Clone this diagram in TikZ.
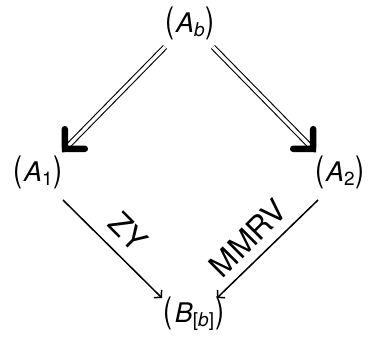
\documentclass[tikz,border=0pt]{standalone}
\usepackage{fontspec}
\setmainfont{TeX Gyre Heros}
\usetikzlibrary{arrows.meta,decorations.markings}
\newcommand\lp{\scalebox{1}[1.3]{(}}
\newcommand\rp{\scalebox{1}[1.3]{)}}
\newcommand\sbs[1]{\raisebox{-0.14em}{\fontsize{19}{19}\selectfont #1}}
\tikzset{
  obj/.style={inner sep=0pt, anchor=base, font=\fontsize{27}{30}\selectfont},
  lab/.style={inner sep=0pt, font=\fontsize{31}{34}\selectfont},
  dbl/.style={double, double distance=3.4pt, line width=1.1pt},
  chev/.style={decorate, decoration={markings, mark=at position 1 with {
     \draw[line width=6.5pt, line cap=round, line join=miter] (-14pt,14pt) -- (0,0) -- (-14pt,-14pt);}}},
  sar/.style={line width=1.5pt, -{Straight Barb[length=5pt,width=11pt,line width=1.5pt]}}
}
\begin{document}
\begin{tikzpicture}[x=1pt,y=-1pt]
\useasboundingbox (0,0) rectangle (370,342);
\node[obj] (Ab) at (190,33) {\lp\hspace{2pt}\textit{A}\sbs{\textit{b}}\hspace{1pt}\rp};
\node[obj] (A1) at (38,182) {\lp\hspace{2pt}\textit{A}\sbs{1}\hspace{1pt}\rp};
\node[obj] (A2) at (340,182) {\lp\hspace{2pt}\textit{A}\sbs{2}\hspace{1pt}\rp};
\node[obj] (B) at (194,323) {\lp\hspace{2pt}\textit{B}\sbs{[\textit{b}]}\hspace{1pt}\rp};
\draw[dbl] ([shift={(-25,14)}]Ab.base) -- ([shift={(29,-35)}]A1.base);
\path[chev] ([shift={(-25,14)}]Ab.base) -- ([shift={(27,-33)}]A1.base);
\draw[dbl] ([shift={(23,14)}]Ab.base) -- ([shift={(-29,-35)}]A2.base);
\path[chev] ([shift={(23,14)}]Ab.base) -- ([shift={(-27,-33)}]A2.base);
\draw[sar] ([shift={(25,18)}]A1.base) -- ([shift={(-32,-25)}]B.base);
\draw[sar] ([shift={(-22,18)}]A2.base) -- ([shift={(23,-25)}]B.base);
\node[lab, rotate=-45] (zy) at (128,232) {ZY};
\node[lab, rotate=45] (mmrv) at (248,238) {MMRV};
\end{tikzpicture}
\end{document}
